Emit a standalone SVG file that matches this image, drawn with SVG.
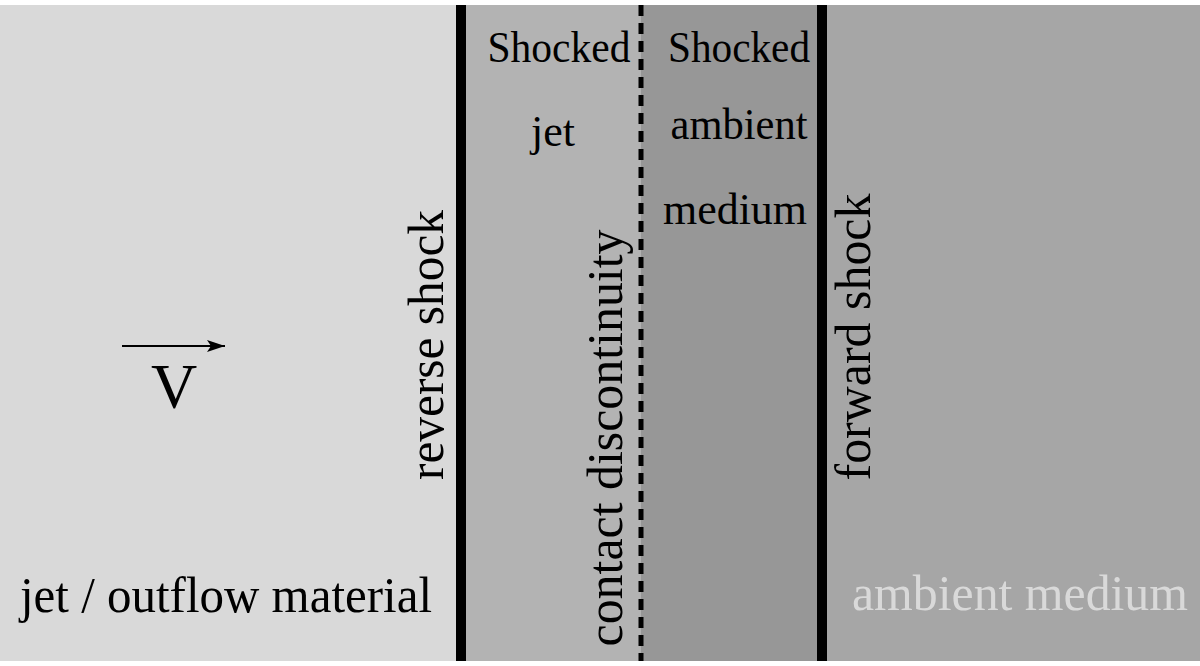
<svg xmlns="http://www.w3.org/2000/svg" width="1200" height="666" viewBox="0 0 1200 666">
  <style>
    text { font-family: "Liberation Serif", "Times New Roman", serif; fill: #000; }
    .lbl { font-size: 51px; }
    .top { font-size: 44px; text-anchor: middle; }
    .shock { stroke: #000; stroke-width: 10; fill: none; }
  </style>
  <defs>
    <marker id="arrow" markerWidth="18" markerHeight="12" refX="18" refY="6" orient="auto" markerUnits="userSpaceOnUse">
      <path d="M0,0 L18,6 L0,12 L4,6 Z" fill="#000"/>
    </marker>
  </defs>
  <rect x="0" y="0" width="1200" height="666" fill="#ffffff"/>
  <g id="jet-region">
    <rect x="0" y="5" width="461" height="656" fill="#d9d9d9"/>
    <text class="lbl" x="20" y="612" textLength="412" lengthAdjust="spacingAndGlyphs">jet / outflow material</text>
    <text x="174" y="408" font-size="64" text-anchor="middle">V</text>
    <line x1="122" y1="346" x2="225" y2="346" stroke="#000" stroke-width="2" marker-end="url(#arrow)"/>
  </g>
  <g id="shocked-jet">
    <rect x="461" y="5" width="180" height="656" fill="#b3b3b3"/>
    <text class="top" x="559" y="62" textLength="143" lengthAdjust="spacingAndGlyphs">Shocked</text>
    <text class="top" x="553" y="146">jet</text>
  </g>
  <g id="shocked-ambient">
    <rect x="641" y="5" width="181" height="656" fill="#979797"/>
    <text class="top" x="739" y="62" textLength="142" lengthAdjust="spacingAndGlyphs">Shocked</text>
    <text class="top" x="739" y="139" textLength="137" lengthAdjust="spacingAndGlyphs">ambient</text>
    <text class="top" x="735" y="224" textLength="144" lengthAdjust="spacingAndGlyphs">medium</text>
  </g>
  <g id="ambient-region">
    <rect x="822" y="5" width="378" height="656" fill="#a6a6a6"/>
    <text class="lbl" x="852" y="610" textLength="336" lengthAdjust="spacingAndGlyphs" style="fill:#d9d9d9">ambient medium</text>
  </g>
  <g id="connectors">
    <line id="reverse-shock-line" class="shock" x1="461" y1="5" x2="461" y2="661" stroke-width="9"/>
    <line id="contact-line" x1="641" y1="5" x2="641" y2="661" stroke="#000" stroke-width="5" stroke-dasharray="11 7"/>
    <line id="forward-shock-line" class="shock" x1="822" y1="5" x2="822" y2="661"/>
  </g>
  <g id="reverse-shock">
    <text class="lbl" transform="translate(443,345) rotate(-90)" text-anchor="middle" textLength="270" lengthAdjust="spacingAndGlyphs">reverse shock</text>
  </g>
  <g id="contact-discontinuity">
    <text class="lbl" transform="translate(622,438) rotate(-90)" text-anchor="middle" textLength="417" lengthAdjust="spacingAndGlyphs">contact discontinuity</text>
  </g>
  <g id="forward-shock">
    <text class="lbl" transform="translate(870,337) rotate(-90)" text-anchor="middle" textLength="287" lengthAdjust="spacingAndGlyphs">forward shock</text>
  </g>
</svg>
